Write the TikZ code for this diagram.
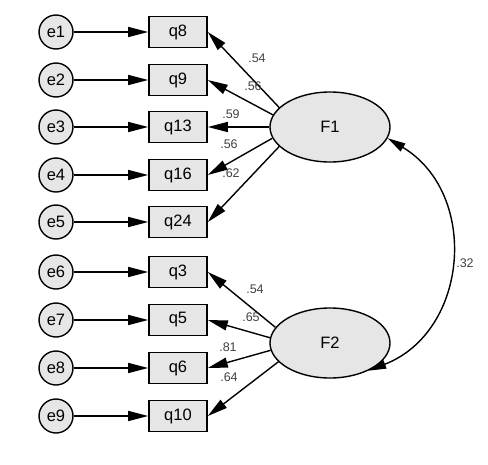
\documentclass[tikz,border=0pt]{standalone}
\usepackage{fontspec}
\setmainfont{Liberation Sans}
\usetikzlibrary{arrows.meta,shapes.geometric}
\definecolor{fillgray}{HTML}{E6E6E6}
\definecolor{labgray}{HTML}{404040}
\tikzset{
  errnode/.style={circle,draw,line width=1.4pt,fill=fillgray,minimum size=34pt,inner sep=0pt,font=\fontsize{16.5}{18}\selectfont},
  obsnode/.style={rectangle,draw,line width=1.6pt,fill=fillgray,minimum width=58pt,minimum height=31pt,inner sep=0pt,font=\fontsize{16.5}{18}\selectfont},
  latnode/.style={ellipse,draw,line width=1.4pt,fill=fillgray,minimum width=120pt,minimum height=70pt,inner sep=0pt,font=\fontsize{16.5}{18}\selectfont},
  path/.style={line width=1.4pt,-{Triangle[length=20pt,width=10pt]}},
  cov/.style={line width=1.4pt,{Triangle[length=18pt,width=9pt]}-{Triangle[length=18pt,width=9pt]}},
  lab/.style={text=labgray,font=\fontsize{12.5}{14}\selectfont,inner sep=0pt}
}
\begin{document}
\begin{tikzpicture}[x=1pt,y=-1pt]
\useasboundingbox (0,0) rectangle (488,464);
% error nodes
\foreach \i/\y in {1/32,2/80,3/127,4/175,5/222,6/272,7/320,8/368,9/416}
  \node[errnode] (e\i) at (56,\y) {e\i};
% observed nodes
\node[obsnode] (q8)  at (178,32)  {q8};
\node[obsnode] (q9)  at (178,80)  {q9};
\node[obsnode] (q13) at (178,127) {q13};
\node[obsnode] (q16) at (178,175) {q16};
\node[obsnode] (q24) at (178,222) {q24};
\node[obsnode] (q3)  at (178,272) {q3};
\node[obsnode] (q5)  at (178,320) {q5};
\node[obsnode] (q6)  at (178,368) {q6};
\node[obsnode] (q10) at (178,416) {q10};
% latent
\node[latnode] (F1) at (330,127) {F1};
\node[latnode] (F2) at (330,343) {F2};
% error arrows
\draw[path] (e1) -- (q8);
\draw[path] (e2) -- (q9);
\draw[path] (e3) -- (q13);
\draw[path] (e4) -- (q16);
\draw[path] (e5) -- (q24);
\draw[path] (e6) -- (q3);
\draw[path] (e7) -- (q5);
\draw[path] (e8) -- (q6);
\draw[path] (e9) -- (q10);
% loadings F1
\draw[path] (F1.159) -- (q8.east);
\draw[path] (F1.168) -- (q9.east);
\draw[path] (F1.180) -- (q13.east);
\draw[path] (F1.191) -- (q16.east);
\draw[path] (F1.201) -- (q24.east);
% loadings F2
\draw[path] (F2.164) -- (q3.east);
\draw[path] (F2.175) -- (q5.east);
\draw[path] (F2.187) -- (q6.east);
\draw[path] (F2.200) -- (q10.east);
% covariance
\draw[cov] (F1.-11) .. controls (479.5,193.6) and (469,331.4) .. (F2.-36);
% labels
\node[lab] (l1) at (257,58) {.54};
\node[lab] (l2) at (253,86) {.56};
\node[lab] (l3) at (231,114.5) {.59};
\node[lab] (l4) at (229,144) {.56};
\node[lab] (l5) at (231,173) {.62};
\node[lab] (l6) at (255,289) {.54};
\node[lab] (l7) at (251,317) {.65};
\node[lab] (l8) at (228,347) {.81};
\node[lab] (l9) at (229,377) {.64};
\node[lab] (l10) at (465,263) {.32};
\end{tikzpicture}
\end{document}
